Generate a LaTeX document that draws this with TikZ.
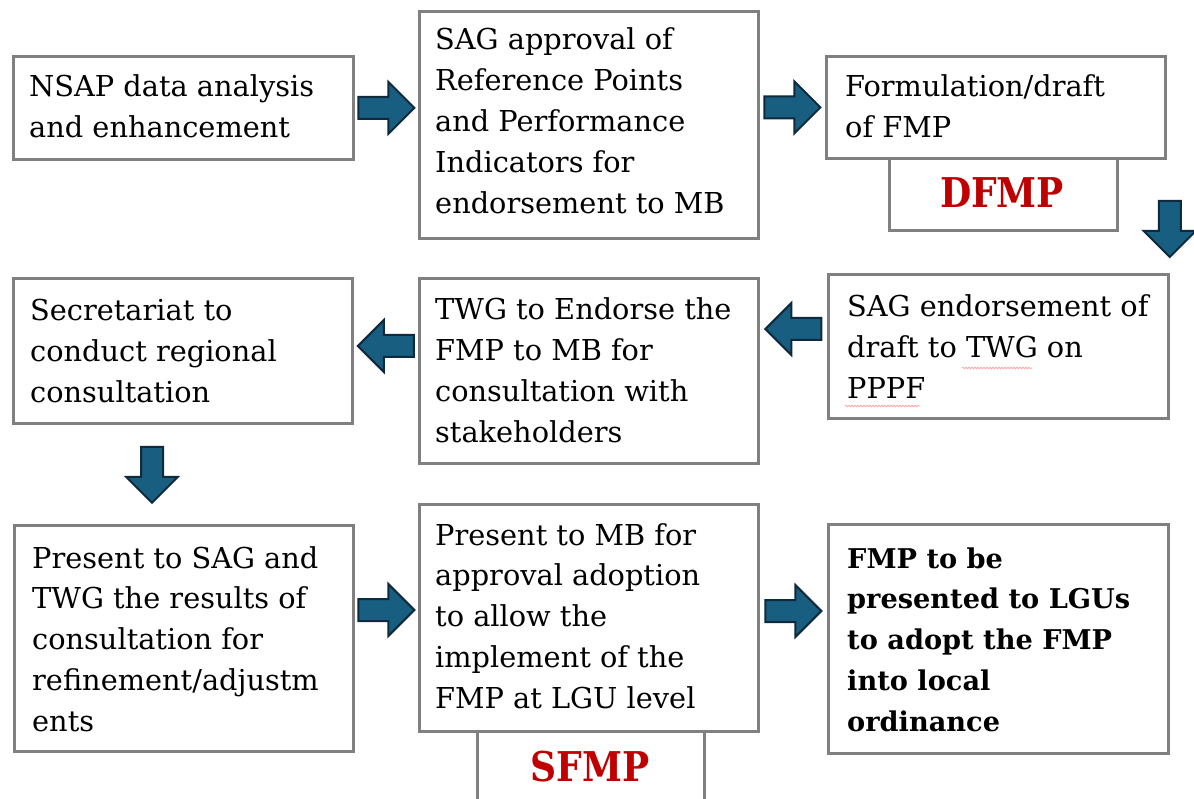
\documentclass[tikz,border=0pt]{standalone}
\usepackage{fontspec}
\setmainfont{DejaVu Serif}
\usetikzlibrary{calc,decorations.pathmorphing}
\definecolor{boxgray}{RGB}{128,128,128}
\definecolor{arrowfill}{RGB}{24,94,128}
\definecolor{arrowline}{RGB}{14,42,60}
\definecolor{tagred}{RGB}{192,0,0}
\begin{document}
\begin{tikzpicture}[x=1pt,y=-1pt,
  box/.style={draw=boxgray, line width=2.8pt, fill=white, inner sep=0pt, anchor=north west},
  txt/.style={anchor=base west, inner sep=0pt, font=\fontsize{28.8}{40.8}\selectfont},
  tag/.style={anchor=base, inner sep=0pt, text=tagred, font=\bfseries\fontsize{41}{41}\selectfont},
  arrowstyle/.style={fill=arrowfill, draw=arrowline, line width=2pt, line join=miter},
  spell/.style={draw=red!35, line width=0.8pt, decorate, decoration={snake, amplitude=0.8pt, segment length=3pt}},
  fatarrow/.pic={\draw[arrowstyle] (-28,-11) -- (2,-11) -- (2,-26) -- (28,0) -- (2,26) -- (2,11) -- (-28,11) -- cycle;}
]
\useasboundingbox (0,0) rectangle (1194,799);
\clip (0,0) rectangle (1194,799);
\fill[white] (0,0) rectangle (1194,799);

% row 1
\node[box, minimum width=340pt, minimum height=103pt] (b1) at (12,55) {};
\node[txt] (t1) at (29,97) {\parbox[t]{310pt}{\raggedright NSAP data analysis\\and enhancement}};

\node[box, minimum width=339pt, minimum height=227pt] (b2) at (418,10) {};
\node[txt] (t2) at (435,50) {\parbox[t]{310pt}{\raggedright SAG approval of\\Reference Points\\and Performance\\Indicators for\\endorsement to MB}};

\node[box, minimum width=339pt, minimum height=102pt] (b3) at (825,55) {};
\node[txt] (t3) at (845,97) {\parbox[t]{310pt}{\raggedright Formulation/draft\\of FMP}};

\node[box, minimum width=228pt, minimum height=72pt] (dfmp) at (888,157) {};
\node[tag] (dfmpt) at (1002,208) {\scalebox{0.88}[1]{DFMP}};

% row 2
\node[box, minimum width=340pt, minimum height=144pt] (b4) at (827,273) {};
\node[txt] (t4) at (847,317) {\parbox[t]{310pt}{\raggedright SAG endorsement of\\draft to TWG on\\PPPF}};
\draw[spell] (962,368) -- (1032,368);
\draw[spell] (845,406) -- (920,406);

\node[box, minimum width=339pt, minimum height=185pt] (b5) at (418,277) {};
\node[txt] (t5) at (435,320) {\parbox[t]{310pt}{\raggedright TWG to Endorse the\\FMP to MB for\\consultation with\\stakeholders}};

\node[box, minimum width=339pt, minimum height=145pt] (b6) at (12,277) {};
\node[txt] (t6) at (30,321) {\parbox[t]{310pt}{\raggedright Secretariat to\\conduct regional\\consultation}};

% row 3
\node[box, minimum width=339pt, minimum height=226pt] (b7) at (13,524) {};
\node[txt] (t7) at (32,568) {\parbox[t]{310pt}{\raggedright Present to SAG and\\TWG the results of\\consultation for\\refinement/adjustm\\ents}};

\node[box, minimum width=339pt, minimum height=227pt] (b8) at (418,503) {};
\node[txt] (t8) at (435,545) {\parbox[t]{310pt}{\raggedright Present to MB for\\approval adoption\\to allow the\\implement of the\\FMP at LGU level}};

\node[box, minimum width=227pt, minimum height=100pt] (sfmp) at (476,730) {};
\node[tag] (sfmpt) at (590,781) {\scalebox{0.88}[1]{SFMP}};

\node[box, minimum width=340pt, minimum height=229pt] (b9) at (827,523) {};
\node[txt, font=\bfseries\fontsize{27.2}{40.8}\selectfont] (t9) at (847,568) {\parbox[t]{315pt}{\raggedright FMP to be\\presented to LGUs\\to adopt the FMP\\into local\\ordinance}};

% block arrows between the boxes
\pic at ($(b1.east)!0.5!(b2.west |- b1.east)$) {fatarrow};
\pic at ($(b2.east |- b3.west)!0.5!(b3.west)$) {fatarrow};
\pic[rotate=-90] at ($(b4.north east)+(0,-44)$) {fatarrow};
\pic[rotate=180] at ($(b5.east |- b4.north west)!0.5!(b4.north west)+(0,56)$) {fatarrow};
\pic[rotate=180] at ($(b6.east |- b5.north)!0.5!(b5.north west)+(0,69)$) {fatarrow};
\pic[rotate=-90] at ($(b6.south west)+(140,50)$) {fatarrow};
\pic at ($(b7.east |- b8.north)!0.5!(b8.north west)+(0,107)$) {fatarrow};
\pic at ($(b8.east |- b9.north)!0.5!(b9.north west)+(0,88)$) {fatarrow};
\end{tikzpicture}
\end{document}
